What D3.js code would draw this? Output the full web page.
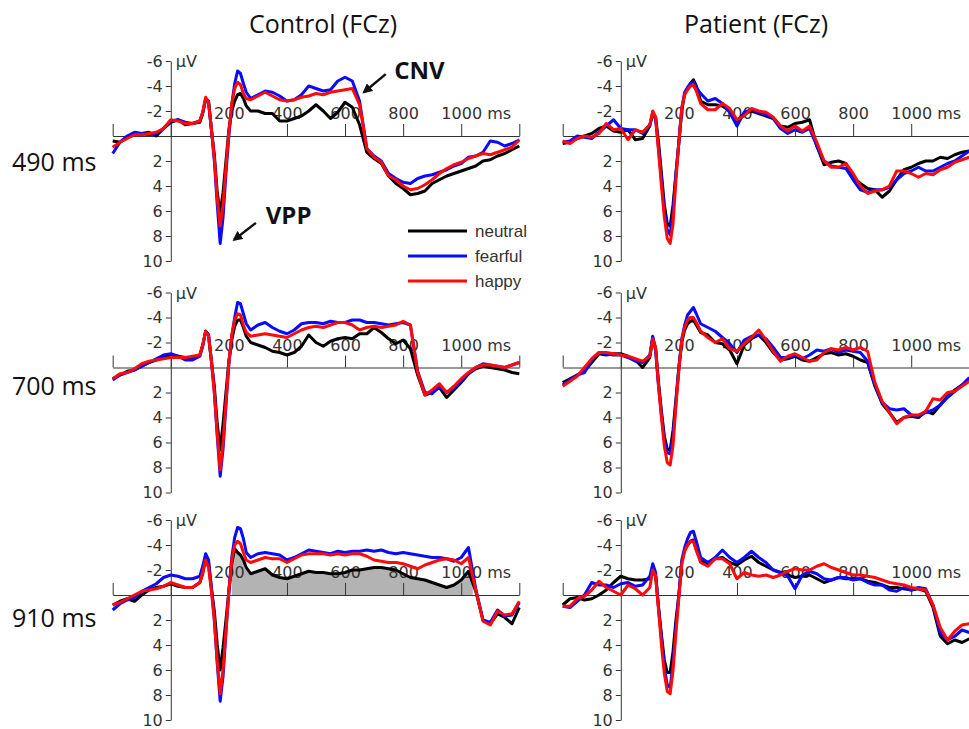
<!DOCTYPE html>
<html>
<head>
<meta charset="utf-8">
<script src="https://cdn.jsdelivr.net/npm/d3@7"></script>
<style>
  body { margin: 0; background: #fff; }
  svg { display: block; }
</style>
</head>
<body>
<script>
// sample times (ms), shared by every series
const times = [-200, -175, -150, -125, -100, -75, -50, -25, 0, 25, 50, 75, 100,
  110, 120, 130, 140, 150, 160, 170, 180, 190, 200, 210, 220, 230, 240, 250, 260,
  275, 300, 325, 350, 375, 400, 425, 450, 475, 500, 525, 550, 575, 600, 625, 650, 675, 700, 725, 750,
  775, 800, 825, 850, 875, 900, 925, 950, 975, 1000, 1025, 1050, 1075, 1100, 1125, 1150, 1175, 1200]

const conditions = ['neutral', 'fearful', 'happy']
const groups = ['Control (FCz)', 'Patient (FCz)']
const soaLabels = ['490 ms', '700 ms', '910 ms']
const yTicks = [-6, -4, -2, 2, 4, 6, 8, 10]
const xTicks = [-200, 0, 200, 400, 600, 800, 1000, 1200]
const xTickLabels = ['', '', '200', '400', '600', '800', '1000 ms', '']

// Control, 490 ms
const control490Neutral = [0.4, 0.5, 0.1, -0.2, -0.2, -0.3, 0.0, -0.6, -1.1, -1.3, -0.9, -1.0, -1.1,
  -1.8, -2.9, -2.8, -0.5, 1.5, 4.5, 6.2, 4.5, 2.0, -0.5, -2.0, -2.8, -3.3, -3.4, -3.0, -2.4,
  -2.0, -2.0, -1.8, -1.8, -1.2, -1.2, -1.4, -1.6, -2.0, -2.5, -2.0, -1.4, -1.9, -2.7, -2.3, -0.9,
  1.3, 1.8, 2.2, 3.2, 3.8, 4.2, 4.7, 4.6, 4.4, 3.8, 3.5, 3.2, 3.0, 2.8, 2.6, 2.4, 2.0, 1.9, 1.6, 1.4, 1.1, 0.8]
const control490Fearful = [1.4, 0.5, 0.0, -0.3, -0.2, -0.1, -0.2, -0.6, -1.2, -1.3, -1.1, -1.0, -1.2,
  -1.9, -3.0, -2.7, -0.5, 2.0, 5.5, 8.6, 6.5, 3.0, 0.0, -2.5, -4.2, -5.2, -5.0, -4.2, -3.5,
  -3.0, -3.3, -3.6, -3.5, -3.2, -2.8, -2.9, -3.3, -4.0, -3.8, -3.6, -3.7, -4.4, -4.7, -4.4, -2.8,
  1.0, 1.6, 2.0, 3.0, 3.4, 3.7, 3.8, 3.4, 3.2, 3.1, 2.9, 2.7, 2.4, 2.2, 1.7, 1.6, 1.3, 0.4, 0.5, 0.8, 0.6, 0.3]
const control490Happy = [0.9, 0.5, 0.2, -0.1, -0.1, -0.2, -0.3, -0.6, -1.3, -1.2, -1.0, -1.0, -1.2,
  -1.9, -3.1, -2.7, -0.5, 1.8, 5.0, 7.2, 5.5, 2.5, -0.3, -2.6, -3.8, -4.3, -4.1, -3.4, -3.0,
  -2.9, -3.2, -3.5, -3.2, -2.9, -2.8, -2.9, -3.1, -3.2, -3.4, -3.3, -3.5, -3.6, -3.7, -3.8, -2.5,
  1.0, 1.7, 2.1, 3.2, 3.5, 4.0, 4.3, 4.2, 3.9, 3.5, 3.0, 2.6, 2.3, 2.1, 1.8, 1.6, 1.4, 1.5, 1.3, 1.1, 0.9, 0.3]

// Patient, 490 ms
const patient490Neutral = [0.6, 0.5, 0.2, 0.0, -0.2, -0.6, -0.8, -0.4, -0.3, -0.5, 0.3, 0.2, -0.8,
  -1.8, -1.5, 0.5, 3.0, 5.5, 7.0, 7.2, 5.5, 3.0, 0.5, -2.0, -3.4, -3.8, -4.2, -4.5, -4.0,
  -2.8, -2.5, -2.5, -2.4, -2.0, -1.2, -1.8, -2.0, -1.8, -1.6, -1.4, -0.8, -0.7, -1.0, -1.1, -1.3,
  0.8, 2.3, 2.1, 2.0, 2.2, 3.3, 3.8, 4.2, 4.3, 4.9, 4.4, 3.5, 2.7, 2.5, 2.2, 2.0, 2.0, 1.7, 1.8, 1.5, 1.3, 1.2]
const patient490Fearful = [0.5, 0.4, 0.0, 0.1, 0.2, -0.3, -0.8, -1.3, -0.6, -0.5, -0.5, -0.2, -0.9,
  -1.9, -1.3, 1.0, 3.5, 6.0, 7.5, 7.9, 6.0, 3.0, 0.5, -2.2, -3.5, -3.9, -4.2, -4.3, -3.9,
  -3.4, -2.8, -3.0, -2.6, -1.9, -0.8, -1.9, -2.1, -1.9, -1.7, -1.4, -0.6, -0.2, -0.5, -0.3, -0.6,
  0.8, 2.0, 2.4, 2.5, 2.6, 3.5, 4.3, 4.5, 4.3, 4.3, 4.1, 3.5, 3.0, 2.8, 2.5, 2.8, 2.8, 2.5, 2.2, 2.0, 1.6, 1.2]
const patient490Happy = [0.4, 0.6, 0.2, 0.0, 0.1, -0.2, -1.0, -0.5, -0.6, 0.3, -0.5, -0.3, -0.9,
  -2.0, -1.5, 1.2, 4.0, 6.5, 8.2, 8.6, 7.0, 3.5, 0.5, -2.3, -3.3, -3.7, -4.0, -4.1, -3.6,
  -2.6, -2.1, -2.1, -2.6, -2.2, -1.3, -1.6, -2.2, -2.0, -1.9, -1.5, -0.8, -0.4, -0.8, -0.4, -0.8,
  0.5, 2.0, 2.5, 2.5, 2.2, 3.0, 4.0, 4.6, 4.4, 4.3, 4.0, 2.8, 2.8, 3.0, 3.3, 3.0, 3.1, 2.7, 2.5, 2.1, 1.9, 1.7]

// Control, 700 ms
const control700Neutral = [0.9, 0.6, 0.3, 0.2, -0.1, -0.4, -0.6, -0.8, -1.0, -0.9, -0.8, -0.8, -1.0,
  -1.8, -2.9, -2.6, -0.5, 1.5, 4.5, 6.6, 4.5, 2.0, -0.5, -2.2, -3.3, -3.8, -3.8, -3.2, -2.5,
  -2.0, -1.8, -1.6, -1.3, -1.2, -1.0, -1.2, -1.7, -2.6, -2.0, -1.7, -2.1, -2.3, -2.4, -2.3, -2.7,
  -2.7, -3.2, -2.8, -2.3, -1.9, -2.2, -1.5, 0.6, 2.2, 2.0, 1.6, 2.4, 1.8, 1.2, 0.5, 0.1, -0.1, 0.0, 0.1, 0.2, 0.4, 0.5]
const control700Fearful = [1.0, 0.6, 0.4, 0.2, -0.1, -0.4, -0.7, -1.0, -1.1, -0.9, -0.6, -0.6, -0.9,
  -1.7, -2.9, -2.6, -0.5, 2.0, 5.5, 8.7, 6.5, 3.0, -0.3, -2.5, -4.0, -5.2, -5.1, -4.3, -3.5,
  -3.0, -3.4, -3.6, -3.2, -2.9, -2.7, -3.0, -3.5, -3.6, -3.6, -3.5, -3.7, -3.6, -3.6, -3.8, -3.8,
  -3.6, -3.6, -3.5, -3.4, -3.5, -3.6, -3.4, 0.3, 2.0, 2.1, 1.5, 2.0, 1.7, 1.0, 0.5, 0.0, -0.3, -0.2, -0.1, 0.0, -0.2, -0.4]
const control700Happy = [0.9, 0.5, 0.4, 0.1, -0.3, -0.5, -0.6, -0.7, -0.8, -0.8, -0.8, -0.9, -1.0,
  -1.8, -2.9, -2.5, -0.5, 2.0, 5.3, 8.2, 6.0, 2.8, -0.4, -2.6, -3.8, -4.3, -4.2, -3.4, -2.8,
  -2.5, -2.6, -2.7, -2.6, -2.5, -2.4, -2.7, -3.0, -3.2, -3.3, -3.2, -3.4, -3.6, -3.6, -3.4, -3.0,
  -3.2, -3.3, -3.2, -3.3, -3.4, -3.7, -3.4, 0.4, 2.2, 1.8, 1.3, 2.0, 1.5, 0.9, 0.4, 0.0, -0.2, -0.2, -0.1, 0.0, -0.2, -0.4]

// Patient, 700 ms
const patient700Neutral = [1.2, 0.9, 0.6, 0.3, -0.4, -1.1, -1.0, -1.1, -1.1, -0.9, -0.6, 0.0, -0.8,
  -2.4, -1.5, 1.2, 3.5, 5.5, 6.5, 6.6, 5.0, 2.5, 0.0, -2.0, -3.0, -3.5, -3.7, -3.8, -3.4,
  -2.8, -2.6, -2.0, -1.9, -1.4, -0.3, -1.8, -2.3, -2.6, -2.0, -1.2, -0.6, -0.7, -0.9, -0.6, -0.5,
  -0.8, -1.1, -1.2, -1.0, -1.1, -0.9, -0.6, -0.4, 1.5, 2.9, 3.6, 4.4, 4.0, 3.9, 4.0, 3.5, 3.7, 3.0, 2.3, 1.8, 1.4, 1.0]
const patient700Fearful = [1.4, 1.0, 0.6, 0.4, -0.6, -1.2, -1.1, -1.0, -1.0, -0.8, -0.5, -0.4, -1.0,
  -2.5, -1.3, 1.5, 3.8, 5.8, 6.8, 6.9, 5.5, 2.8, 0.0, -2.3, -3.4, -4.2, -4.5, -4.8, -4.3,
  -3.5, -3.2, -2.9, -2.4, -1.9, -1.2, -2.2, -2.5, -2.6, -2.3, -1.6, -0.8, -0.8, -1.0, -0.7, -1.0,
  -1.4, -1.3, -1.5, -1.2, -1.4, -1.3, -1.2, -0.5, 1.4, 2.8, 3.3, 3.4, 3.3, 3.8, 3.9, 3.6, 3.4, 3.0, 2.4, 1.9, 1.4, 0.8]
const patient700Happy = [1.5, 1.1, 0.7, 0.0, -0.7, -1.2, -1.2, -1.1, -1.0, -0.9, -0.7, -0.5, -0.9,
  -2.3, -1.6, 1.5, 4.0, 6.3, 7.6, 7.8, 6.2, 3.0, 0.2, -2.2, -3.2, -3.8, -4.0, -4.0, -3.6,
  -2.9, -2.4, -2.0, -2.3, -1.5, -1.3, -1.9, -2.4, -3.0, -2.2, -1.3, -0.5, -0.9, -1.1, -0.8, -0.5,
  -0.6, -1.2, -1.5, -1.4, -1.6, -1.4, -1.6, -1.3, 1.2, 2.7, 3.6, 4.5, 4.0, 3.8, 3.8, 3.5, 2.5, 2.6, 2.0, 1.9, 1.5, 1.1]

// Control, 910 ms
const control910Neutral = [0.8, 0.5, 0.3, 0.5, 0.0, -0.4, -0.6, -0.7, -0.9, -0.7, -0.6, -0.6, -1.0,
  -1.7, -3.0, -2.5, -0.5, 1.3, 4.0, 6.0, 4.2, 2.0, -0.3, -2.5, -3.7, -3.4, -3.2, -2.8, -2.2,
  -1.7, -1.9, -2.1, -1.6, -1.4, -1.3, -1.5, -1.7, -1.9, -1.8, -1.8, -1.7, -1.7, -1.8, -2.0, -2.0,
  -2.1, -2.2, -2.2, -2.1, -2.0, -1.7, -1.4, -1.3, -1.2, -1.0, -0.8, -0.6, -0.8, -1.2, -1.9, -0.3, 2.0, 2.3, 1.5, 1.8, 2.3, 1.0]
const control910Fearful = [1.2, 0.7, 0.4, 0.2, -0.3, -0.6, -0.9, -1.4, -1.6, -1.5, -1.3, -1.3, -1.5,
  -2.3, -3.3, -2.8, -0.6, 2.0, 5.5, 8.5, 6.5, 3.0, -0.3, -3.0, -4.6, -5.4, -5.3, -4.5, -3.4,
  -3.0, -3.3, -3.4, -3.3, -3.2, -2.8, -3.0, -3.3, -3.6, -3.5, -3.4, -3.3, -3.5, -3.4, -3.5, -3.5,
  -3.6, -3.5, -3.6, -3.4, -3.3, -3.4, -3.3, -3.2, -3.1, -3.0, -3.0, -2.9, -2.7, -3.0, -3.8, -0.5, 2.0, 2.2, 1.2, 1.7, 1.6, 0.6]
const control910Happy = [0.8, 0.6, 0.3, 0.0, -0.3, -0.4, -0.5, -0.7, -1.0, -0.8, -0.6, -0.6, -1.0,
  -1.8, -2.8, -2.2, -0.3, 2.0, 5.3, 7.9, 6.0, 2.8, -0.3, -2.8, -4.0, -4.3, -4.1, -3.4, -2.8,
  -2.6, -2.8, -3.0, -2.9, -2.9, -2.6, -2.9, -3.2, -3.3, -3.3, -3.3, -3.2, -3.3, -3.2, -3.3, -3.3,
  -3.1, -2.8, -2.7, -2.6, -2.6, -2.5, -2.3, -2.1, -2.4, -2.6, -2.8, -2.9, -2.8, -2.5, -3.0, -0.4, 2.1, 2.4, 1.3, 1.6, 1.5, 0.5]

// Patient, 910 ms
const patient910Neutral = [0.8, 0.3, 0.2, 0.4, 0.3, 0.0, -0.4, -1.0, -1.5, -1.3, -1.2, -1.2, -1.3,
  -2.0, -1.5, 1.0, 3.2, 5.2, 6.2, 6.2, 4.5, 2.0, 0.0, -2.6, -3.6, -4.0, -4.3, -4.4, -3.6,
  -2.7, -2.5, -2.9, -3.0, -2.6, -2.4, -2.8, -3.1, -2.6, -2.3, -2.0, -1.8, -1.6, -1.4, -1.5, -1.6,
  -1.3, -1.0, -1.2, -1.4, -1.3, -1.3, -1.3, -1.1, -1.0, -0.8, -0.6, -0.6, -0.5, -0.4, -0.5, -0.3, 1.0, 3.3, 3.9, 3.6, 3.8, 3.5]
const patient910Fearful = [0.9, 1.0, 0.5, 0.0, -1.0, -0.8, -0.8, -0.6, -0.9, -1.0, -0.7, -0.8, -1.5,
  -2.5, -1.8, 1.0, 3.5, 5.8, 7.2, 7.4, 5.5, 2.5, 0.0, -2.8, -3.8, -4.5, -5.0, -5.1, -4.3,
  -3.0, -2.6, -3.0, -3.6, -3.0, -2.6, -3.0, -3.5, -3.0, -2.6, -2.0, -1.8, -1.5, -0.5, -1.6, -1.9,
  -1.7, -1.3, -1.2, -1.4, -1.4, -1.2, -1.3, -1.0, -0.8, -0.8, -0.4, -0.3, -0.6, -0.4, -0.6, -0.5, 0.8, 3.0, 3.6, 3.3, 2.8, 3.0]
const patient910Happy = [0.9, 0.9, 0.3, 0.1, -0.4, -1.1, -0.6, -0.3, 0.0, -0.8, -0.5, 0.0, -0.6,
  -2.0, -1.5, 1.2, 4.0, 6.3, 7.7, 7.9, 6.0, 3.0, 0.2, -2.5, -3.5, -4.0, -4.3, -4.3, -3.6,
  -2.6, -2.3, -2.9, -2.9, -2.5, -1.3, -1.8, -1.6, -1.5, -1.6, -1.4, -1.6, -1.9, -2.1, -2.0, -2.0,
  -2.3, -2.5, -2.2, -2.0, -1.8, -1.6, -1.6, -1.5, -1.4, -1.2, -1.0, -0.9, -0.8, -0.6, -0.5, -0.4, 0.8, 2.6, 3.6, 2.9, 2.4, 2.3]

// shaded CNV window under the neutral curve (Control, 910 ms)
const shadeWindow = [210, 1040]

// panel grid: [row][col]
const panelSeries = [
  [[control490Neutral, control490Fearful, control490Happy], [patient490Neutral, patient490Fearful, patient490Happy]],
  [[control700Neutral, control700Fearful, control700Happy], [patient700Neutral, patient700Fearful, patient700Happy]],
  [[control910Neutral, control910Fearful, control910Happy], [patient910Neutral, patient910Fearful, patient910Happy]]
]

// annotations in data coordinates (Control, 490 ms)
const annotations = [
  { label: 'CNV', tip: [665, -3.5], tail: [740, -4.95], text: [769, -4.6] },
  { label: 'VPP', tip: [218, 8.3], tail: [293, 6.95], text: [327, 7.0] }
]

// layout
const width = 969
const height = 729
const colors = ['#000000', '#0a0aff', '#ff0a0a']
const colRanges = [[112.7, 519.3], [562.7, 969.3]]
const rowTops = [61, 292.5, 520]
const plotH = 200
const titleX = [323, 756]
const rowLabelY = [171, 395, 627]
const tickFont = '"DejaVu Sans", sans-serif'
const labelFont = '"Open Sans", sans-serif'
const textColor = '#333'

const svg = d3.select('body')
  .append('svg')
  .attr('width', width)
  .attr('height', height)

// column titles
svg.selectAll('.title')
  .data(groups)
  .enter()
  .append('text')
  .attr('class', 'title')
  .attr('x', (d, i) => titleX[i])
  .attr('y', 33)
  .attr('text-anchor', 'middle')
  .attr('font-family', labelFont)
  .attr('font-size', 25)
  .attr('fill', '#111')
  .text(d => d)

// row labels
svg.selectAll('.soa')
  .data(soaLabels)
  .enter()
  .append('text')
  .attr('class', 'soa')
  .attr('x', 12)
  .attr('y', (d, i) => rowLabelY[i])
  .attr('font-family', labelFont)
  .attr('font-size', 25)
  .attr('fill', '#111')
  .text(d => d)

panelSeries.forEach((row, r) => {
  row.forEach((series, c) => {
    const xScale = d3.scaleLinear().domain([-200, 1200]).range(colRanges[c])
    const yScale = d3.scaleLinear().domain([-6, 10]).range([rowTops[r], rowTops[r] + plotH])
    const g = svg.append('g')

    // grey area (Control 910 ms only)
    if (r === 2 && c === 0) {
      const clipId = 'shade-clip'
      svg.append('clipPath')
        .attr('id', clipId)
        .append('rect')
        .attr('x', xScale(shadeWindow[0]))
        .attr('width', xScale(shadeWindow[1]) - xScale(shadeWindow[0]))
        .attr('y', yScale(-6))
        .attr('height', plotH)
      const area = d3.area()
        .x((d, i) => xScale(times[i]))
        .y0(yScale(0))
        .y1(d => yScale(Math.min(d, 0)))
      g.append('path')
        .datum(series[0])
        .attr('d', area)
        .attr('fill', '#b3b3b3')
        .attr('clip-path', `url(#${clipId})`)
    }

    // x-axis along 0 µV, ticks pointing up
    const xAxisG = g.append('g')
      .attr('transform', `translate(0, ${yScale(0)})`)
      .call(d3.axisTop(xScale)
        .tickValues(xTicks)
        .tickSize(12)
        .tickSizeOuter(0)
        .tickPadding(5)
        .tickFormat((d, i) => xTickLabels[i]))
    xAxisG.attr('font-family', tickFont).attr('font-size', 16).attr('color', textColor)
    xAxisG.selectAll('.tick text')
      .attr('fill', textColor)
      .each(function (d) {
        if (d === 1000) {
          // keep "1000" centred on its tick, "ms" trails to the right
          const t = d3.select(this)
          t.text('1000')
          const w = this.getComputedTextLength()
          t.attr('text-anchor', 'start').attr('x', -w / 2).text('1000 ms')
        }
      })

    // y-axis at 0 ms
    const yAxisG = g.append('g')
      .attr('transform', `translate(${xScale(0)}, 0)`)
      .call(d3.axisLeft(yScale)
        .tickValues(yTicks)
        .tickSize(5)
        .tickSizeOuter(0)
        .tickPadding(3)
        .tickFormat(d => String(d)))
    yAxisG.attr('font-family', tickFont).attr('font-size', 16).attr('color', textColor)

    g.append('text')
      .attr('x', xScale(0) + 5)
      .attr('y', yScale(-6) + 6)
      .attr('font-family', tickFont)
      .attr('font-size', 16)
      .attr('fill', textColor)
      .text('µV')

    // ERP lines
    const line = d3.line()
      .x((d, i) => xScale(times[i]))
      .y(d => yScale(d))

    g.append('g')
      .selectAll('path')
      .data(series)
      .enter()
      .append('path')
      .attr('d', line)
      .attr('fill', 'none')
      .attr('stroke', (d, i) => colors[i])
      .attr('stroke-width', 3)
      .attr('stroke-linejoin', 'round')

    // legend and annotations live in the first panel
    if (r === 0 && c === 0) {
      const legendX = 408
      const legendY = 231
      const legendGap = 25
      const legend = g.append('g')
      conditions.forEach((name, i) => {
        legend.append('line')
          .attr('x1', legendX)
          .attr('x2', legendX + 59)
          .attr('y1', legendY + i * legendGap)
          .attr('y2', legendY + i * legendGap)
          .attr('stroke', colors[i])
          .attr('stroke-width', 3)
        legend.append('text')
          .attr('x', legendX + 67)
          .attr('y', legendY + i * legendGap)
          .attr('dy', '0.35em')
          .attr('font-family', '"Liberation Sans", Arial, sans-serif')
          .attr('font-size', 17)
          .attr('fill', textColor)
          .text(name)
      })

      svg.append('defs')
        .append('marker')
        .attr('id', 'arrow')
        .attr('viewBox', '0 0 10 10')
        .attr('refX', 8)
        .attr('refY', 5)
        .attr('markerWidth', 4)
        .attr('markerHeight', 4)
        .attr('orient', 'auto')
        .append('path')
        .attr('d', 'M0,0 L10,5 L0,10 z')
        .attr('fill', '#111')

      annotations.forEach(a => {
        g.append('line')
          .attr('x1', xScale(a.tail[0]))
          .attr('y1', yScale(a.tail[1]))
          .attr('x2', xScale(a.tip[0]))
          .attr('y2', yScale(a.tip[1]))
          .attr('stroke', '#111')
          .attr('stroke-width', 2.5)
          .attr('marker-end', 'url(#arrow)')
        g.append('text')
          .attr('x', xScale(a.text[0]))
          .attr('y', yScale(a.text[1]))
          .attr('font-family', labelFont)
          .attr('font-weight', 'bold')
          .attr('font-size', 24)
          .attr('fill', '#111')
          .text(a.label)
      })
    }
  })
})
</script>
</body>
</html>
